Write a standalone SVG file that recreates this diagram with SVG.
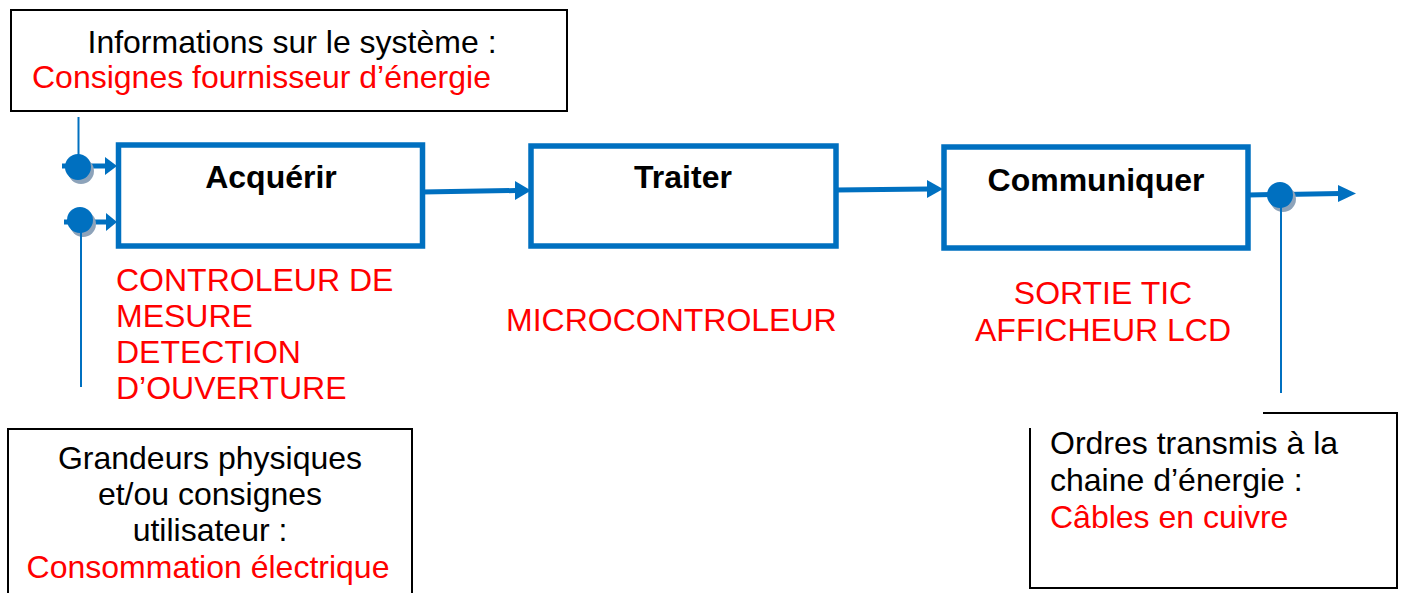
<svg xmlns="http://www.w3.org/2000/svg" width="1402" height="593" viewBox="0 0 1402 593">
<defs>
<style>
.blk{fill:none;stroke:#000;stroke-width:2}
.fn{fill:none;stroke:#0070C0;stroke-width:5.5}
.wire{fill:none;stroke:#0070C0;stroke-width:5}
.thin{fill:none;stroke:#0070C0;stroke-width:2}
.head{fill:#0070C0}
.dot{fill:#0070C0}
.shadow{fill:#8DA3BA}
.t{font-family:"Liberation Sans",Arial,sans-serif;font-size:32px;fill:#000}
.r{fill:#FF0000}
.b{font-weight:bold}
</style>
</defs>
<rect width="1402" height="593" fill="#fff"/>

<g id="info-systeme">
<rect class="blk" x="11" y="10" width="556" height="101"/>
<text class="t" x="292" y="53" text-anchor="middle">Informations sur le système :</text>
<text class="t r" x="32" y="88">Consignes fournisseur d’énergie</text>
</g>

<g id="grandeurs">
<path class="blk" d="M8,600 V429 H412 V600"/>
<text class="t" x="210" y="469" text-anchor="middle">Grandeurs physiques</text>
<text class="t" x="210" y="505" text-anchor="middle">et/ou consignes</text>
<text class="t" x="210" y="541" text-anchor="middle">utilisateur :</text>
<text class="t r" x="208" y="578" text-anchor="middle">Consommation électrique</text>
</g>

<g id="ordres">
<path class="blk" d="M1263,413 H1397 V588 H1030 V428"/>
<text class="t" x="1050" y="454">Ordres transmis à la</text>
<text class="t" x="1050" y="491">chaine d’énergie :</text>
<text class="t r" x="1050" y="528">Câbles en cuivre</text>
</g>

<g id="acquerir">
<rect class="fn" x="118.5" y="145" width="304" height="101"/>
<text class="t b" x="271" y="188" text-anchor="middle">Acquérir</text>
<text class="t r" x="116" y="291">CONTROLEUR DE</text>
<text class="t r" x="116" y="327">MESURE</text>
<text class="t r" x="116" y="363">DETECTION</text>
<text class="t r" x="116" y="399">D’OUVERTURE</text>
</g>

<g id="traiter">
<rect class="fn" x="531" y="146" width="305" height="100"/>
<text class="t b" x="683" y="188" text-anchor="middle">Traiter</text>
<text class="t r" x="506" y="331">MICROCONTROLEUR</text>
</g>

<g id="communiquer">
<rect class="fn" x="944" y="147" width="304" height="101"/>
<text class="t b" x="1096" y="191" text-anchor="middle">Communiquer</text>
<text class="t r" x="1103" y="304" text-anchor="middle">SORTIE TIC</text>
<text class="t r" x="1103" y="341" text-anchor="middle">AFFICHEUR LCD</text>
</g>

<g id="connectors">
<line class="thin" x1="78.5" y1="117" x2="78.5" y2="160"/>
<line class="wire" x1="62" y1="166" x2="106" y2="166"/>
<polygon class="head" points="105,157 117,166 105,175"/>
<circle class="shadow" cx="81" cy="171" r="13"/>
<circle class="dot" cx="78" cy="167" r="13"/>
<line class="wire" x1="64" y1="222" x2="107" y2="222"/>
<polygon class="head" points="106,213 117,222 106,231"/>
<circle class="shadow" cx="83" cy="224" r="13"/>
<circle class="dot" cx="80" cy="220" r="13"/>
<line class="thin" x1="81" y1="232" x2="81" y2="387"/>
<line class="wire" x1="422" y1="192" x2="516" y2="190.5"/>
<polygon class="head" points="515,181 531,190.5 515,200"/>
<line class="wire" x1="836" y1="190" x2="928" y2="189"/>
<polygon class="head" points="927,180 943,189 927,198"/>
<line class="wire" x1="1248" y1="195" x2="1340" y2="193.5"/>
<polygon class="head" points="1338,185 1356,193.5 1338,202"/>
<circle class="shadow" cx="1283" cy="199" r="13"/>
<circle class="dot" cx="1280" cy="195" r="13"/>
<line class="thin" x1="1281" y1="207" x2="1281" y2="393"/>
</g>
</svg>
